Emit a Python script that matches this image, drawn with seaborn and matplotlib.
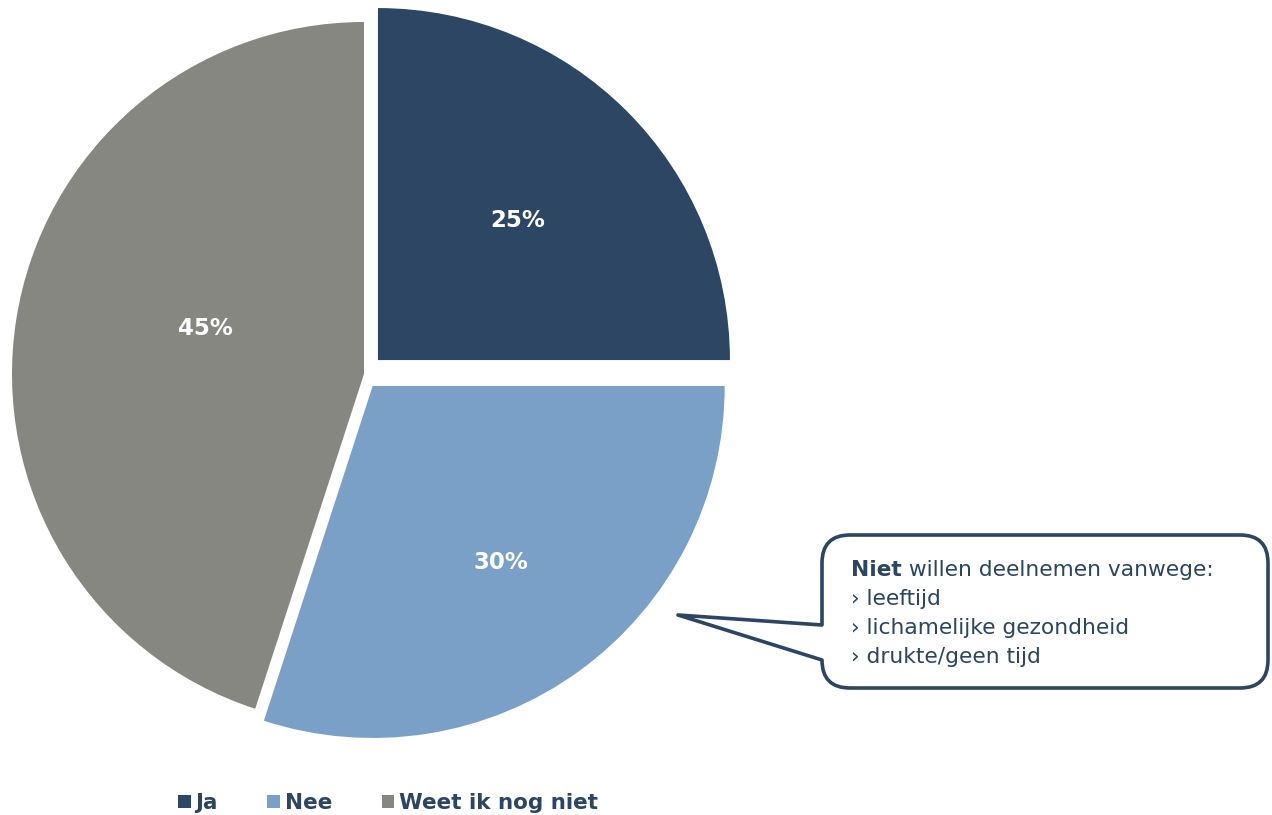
import matplotlib
matplotlib.use("Agg")
import matplotlib.pyplot as plt
import seaborn as sns
import numpy as np
from matplotlib.path import Path
from matplotlib.patches import PathPatch
from matplotlib.transforms import Affine2D

# Chart data
categories = ["Ja", "Nee", "Weet ik nog niet"]
shares = [25, 30, 45]
explode = [0.056, 0.042, 0.0]
colors = ["#2C4664", "#7AA0C8", "#878782"]
callout_bold = "Niet"
callout_head = " willen deelnemen vanwege:"
callout_items = ["leeftijd", "lichamelijke gezondheid", "drukte/geen tijd"]

NAVY = "#2B4562"
W, H = 1272, 815

sns.set_style("white")
plt.rcParams["font.family"] = ["DejaVu Sans"]

fig = plt.figure(figsize=(W / 100, H / 100), dpi=100)

# pie axes: centre at (364, 374) px from top-left, radius 352 px
R_PX, CX, CY, LIM = 352, 364, 374, 1.05
side = 2 * LIM * R_PX
ax = fig.add_axes([(CX - LIM * R_PX) / W, (H - CY - LIM * R_PX) / H, side / W, side / H])

wedges, _, autotexts = ax.pie(
    shares, labels=None, colors=colors, explode=explode, startangle=90,
    counterclock=False, radius=1, autopct="%.0f%%",
    wedgeprops={"linewidth": 0},
    textprops={"color": "white", "fontsize": 16.5, "fontweight": "bold"},
)

# nudge percentage labels to where the reference has them
label_dist = [0.56, 0.62, 0.47]
label_shift = [0, 0, -7]
for w, t, d, s in zip(wedges, autotexts, label_dist, label_shift):
    ang = np.deg2rad((w.theta1 + w.theta2) / 2 + s)
    cx, cy = w.center
    t.set_position((cx + d * w.r * np.cos(ang), cy + d * w.r * np.sin(ang)))

ax.set_xlim(-LIM, LIM)
ax.set_ylim(-LIM, LIM)
ax.set_aspect("equal")
ax.axis("off")

# legend
leg = fig.legend(
    wedges, categories, loc="center", bbox_to_anchor=(388 / W, 1 - 803 / H),
    ncol=3, frameon=False, handlelength=0.6, handleheight=0.6,
    handletextpad=0.2, columnspacing=2.3,
    prop={"size": 15.5, "weight": "bold"},
)
for txt in leg.get_texts():
    txt.set_color(NAVY)

# callout box with tail, in pixel coordinates (origin top-left)
px = Affine2D().scale(1 / W, -1 / H).translate(0, 1) + fig.transFigure
L, R, T, B, r = 822, 1268, 535, 688, 28
tip = (678, 615)
verts = [
    (L + r, T), (R - r, T), (R, T), (R, T + r), (R, B - r), (R, B), (R - r, B),
    (L + r, B), (L, B), (L, B - r), (L, 660), tip, (L, 625), (L, T + r),
    (L, T), (L + r, T), (L + r, T),
]
codes = [
    Path.MOVETO, Path.LINETO, Path.CURVE3, Path.CURVE3, Path.LINETO, Path.CURVE3, Path.CURVE3,
    Path.LINETO, Path.CURVE3, Path.CURVE3, Path.LINETO, Path.LINETO, Path.LINETO, Path.LINETO,
    Path.CURVE3, Path.CURVE3, Path.CLOSEPOLY,
]
fig.add_artist(PathPatch(Path(verts, codes), transform=px, facecolor="white",
                         edgecolor=NAVY, linewidth=2.6, joinstyle="round"))

fs = 15.7
x0 = 851
head = fig.text(x0 / W, 1 - 569 / H, callout_bold, fontsize=fs, fontweight="bold",
                color=NAVY, va="baseline", ha="left")
fig.canvas.draw()
bb = head.get_window_extent(renderer=fig.canvas.get_renderer())
head.set_position((x0 / W, 1 - 576 / H))
fig.text(bb.x1 / W, 1 - 576 / H, callout_head, fontsize=fs, color=NAVY,
         va="baseline", ha="left")
for i, item in enumerate(callout_items):
    fig.text(x0 / W, 1 - (605 + 29 * i) / H, "\u203a " + item, fontsize=fs,
             color=NAVY, va="baseline", ha="left")

fig.savefig("out.png", dpi=100)
